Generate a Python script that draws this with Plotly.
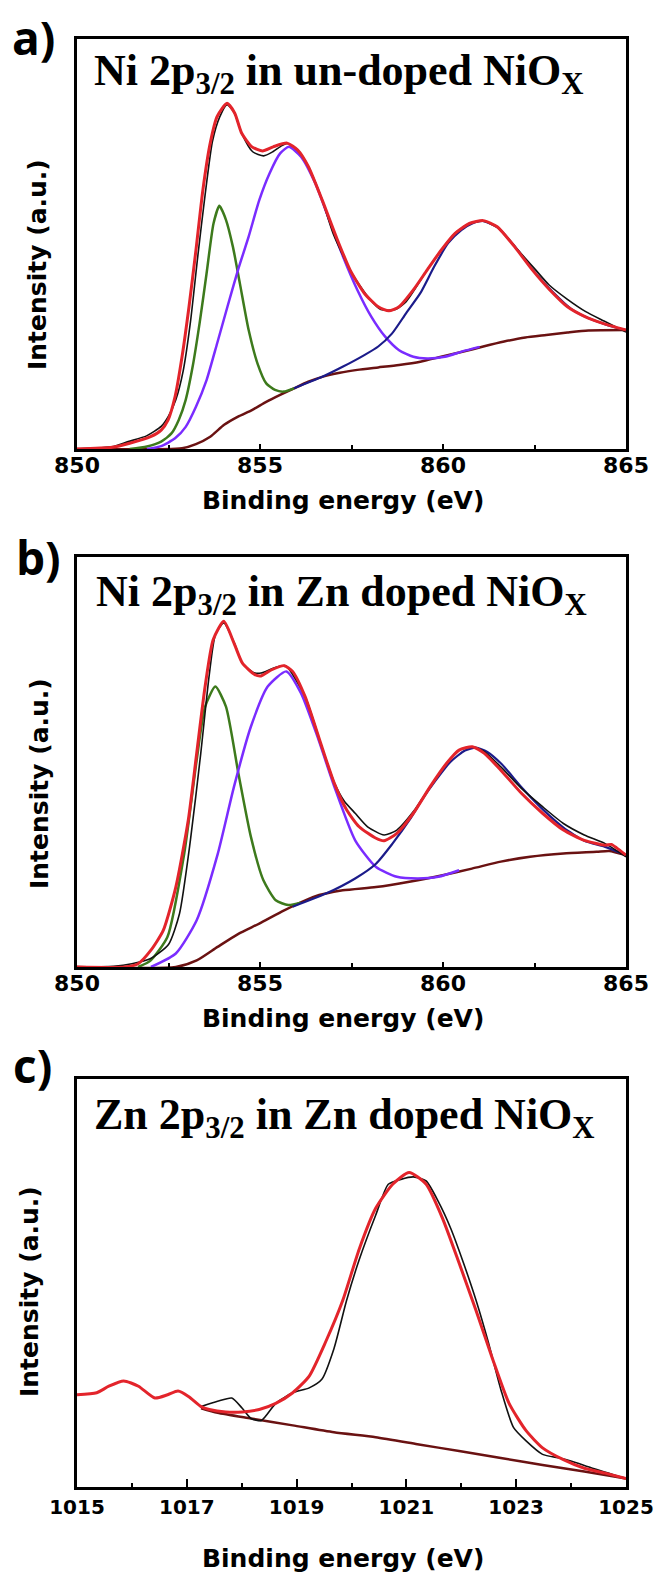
import plotly.graph_objects as go

W, H = 654, 1576

# ---------------- Panel a : Ni 2p3/2 in un-doped NiOx ----------------
a_bg_x = [850.0, 852.87, 853.25, 853.64, 854.02, 854.40, 854.78, 855.17, 855.55, 855.93, 856.32, 856.70, 857.18, 857.66,
          858.23, 858.80, 859.38, 859.95, 860.53, 861.10, 861.67, 862.25, 862.82, 863.40, 863.97, 865.0]
a_bg_y = [0.0, 0.2, 1.2, 3.0, 5.9, 7.9, 9.5, 11.5, 13.2, 14.8, 16.4, 17.6, 18.6, 19.3,
          19.9, 20.5, 21.3, 22.5, 23.7, 25.0, 26.2, 27.2, 27.8, 28.4, 28.9, 29.0]

a_green_x = [851.44, 851.91, 852.30, 852.58, 852.78, 852.97, 853.16, 853.35, 853.54, 853.73, 853.89, 854.07, 854.26,
             854.45, 854.69, 854.93, 855.17, 855.41, 855.65, 855.93]
a_green_y = [0.0, 0.6, 1.8, 3.8, 7.1, 12.0, 20.1, 30.7, 42.8, 55.0, 59.3, 55.9, 49.3,
             40.4, 29.0, 20.9, 16.0, 14.4, 14.0, 14.8]

a_purple_x = [851.91, 852.30, 852.68, 852.97, 853.25, 853.54, 853.83, 854.11, 854.40, 854.69, 854.98, 855.26, 855.55,
              855.79, 856.12, 856.51, 856.89, 857.27, 857.66, 858.04, 858.42, 858.80, 859.19, 859.57, 860.05, 860.53, 861.00]
a_purple_y = [0.0, 0.7, 2.6, 5.4, 10.3, 16.8, 25.8, 34.7, 43.7, 51.8, 60.7, 67.2, 72.1,
              73.7, 71.3, 64.8, 55.9, 46.9, 38.8, 32.3, 27.4, 24.1, 22.5, 22.1, 22.5, 23.8, 24.9]

a_blue_x = [855.93, 856.70, 857.27, 857.85, 858.23, 858.61, 858.99, 859.38, 859.76, 860.14, 860.50, 860.80, 861.10,
            861.50, 862.00, 862.50, 863.00, 863.50, 864.00, 864.50, 865.00]
a_blue_y = [14.8, 17.6, 20.1, 22.9, 25.0, 28.2, 33.1, 38.0, 44.5, 50.2, 53.4, 55.0, 55.6,
            54.0, 49.0, 43.2, 38.3, 34.2, 31.8, 30.2, 29.0]

a_black_x = [850.0, 851.0, 851.4, 851.9, 852.3, 852.5, 852.7, 852.9, 853.1, 853.3, 853.5, 853.7, 853.9, 854.1, 854.3,
             854.5, 854.8, 855.1, 855.35, 855.6, 855.75, 856.03, 856.32, 856.7, 857.0, 857.5, 858.0, 858.3, 858.7,
             859.0, 859.57, 859.95, 860.33, 860.72, 861.1, 861.5, 862.0, 862.5, 862.9, 863.4, 863.9, 864.4, 865.0]
a_black_y = [0.0, 0.6, 1.8, 3.2, 5.5, 8.0, 12.0, 19.0, 31.0, 47.0, 62.0, 75.0, 81.0, 84.0, 82.0,
             77.0, 72.5, 71.5, 72.5, 74.0, 74.5, 72.9, 68.9, 60.7, 52.5, 43.0, 36.5, 34.0, 34.0,
             36.0, 43.7, 48.5, 52.6, 55.0, 55.6, 54.0, 49.0, 44.0, 40.0, 36.5, 33.5, 31.2, 28.5]

a_red_x = [850.0, 850.96, 851.44, 852.01, 852.30, 852.49, 852.68, 852.87, 853.06, 853.25, 853.44, 853.64, 853.83,
           854.10, 854.31, 854.50, 854.78, 855.07, 855.36, 855.74, 856.03, 856.32, 856.70, 857.08, 857.46, 857.85,
           858.23, 858.52, 858.80, 859.19, 859.57, 859.95, 860.33, 860.72, 861.10, 861.48, 861.96, 862.44, 862.92,
           863.40, 863.88, 864.35, 865.0]
a_red_y = [0.0, 0.4, 1.4, 3.0, 4.6, 7.1, 12.8, 22.5, 34.7, 48.5, 63.2, 74.6, 81.1,
           84.3, 81.9, 77.0, 73.7, 72.7, 73.7, 74.6, 72.9, 68.9, 60.7, 51.8, 43.7, 38.0,
           34.7, 33.7, 34.7, 38.8, 43.7, 48.5, 52.6, 55.0, 55.7, 54.2, 49.3, 43.7, 38.8,
           34.7, 32.3, 30.7, 29.0]

# ---------------- Panel b : Ni 2p3/2 in Zn doped NiOx ----------------
b_bg_x = [850.0, 852.70, 853.27, 853.84, 854.41, 854.98, 855.66, 856.46, 857.26, 858.17, 859.08, 859.99, 860.79,
          861.58, 862.38, 863.29, 864.20, 864.54, 865.0]
b_bg_y = [0.0, 0.0, 1.6, 4.9, 8.1, 10.6, 13.8, 17.1, 18.7, 19.5, 20.8, 22.4, 24.0,
          25.7, 26.9, 27.7, 28.1, 28.3, 27.3]

b_green_x = [851.67, 852.0, 852.47, 852.93, 853.27, 853.50, 853.78, 854.07, 854.41, 854.75, 855.09, 855.43, 855.77, 856.12]
b_green_y = [0.0, 1.5, 7.3, 27.7, 50.5, 63.5, 68.4, 63.5, 47.2, 31.8, 21.2, 16.3, 15.1, 15.7]

b_purple_x = [852.02, 852.70, 853.27, 853.84, 854.29, 854.75, 855.21, 855.72, 856.12, 856.57, 857.03, 857.60, 858.17,
              858.74, 859.31, 859.87, 860.44]
b_purple_y = [0.0, 3.3, 11.4, 27.4, 44.0, 58.6, 68.4, 72.1, 66.8, 56.2, 44.0, 30.9, 24.4,
              22.0, 21.6, 22.0, 23.6]

b_blue_x = [855.89, 856.80, 857.60, 858.17, 858.62, 859.08, 859.42, 859.80, 860.20, 860.60, 860.90, 861.20, 861.60,
            862.15, 862.72, 863.29, 863.86, 864.43, 865.0]
b_blue_y = [14.7, 17.9, 21.6, 25.2, 30.1, 35.8, 40.7, 45.5, 50.0, 52.8, 53.5, 52.5, 49.5,
            43.8, 38.5, 34.0, 30.8, 29.3, 27.3]

b_black_x = [850.0, 851.0, 851.5, 852.0, 852.5, 852.8, 853.1, 853.38, 853.61, 853.78, 854.01, 854.3, 854.52, 854.86,
             855.03, 855.4, 855.7, 856.23, 856.69, 857.03, 857.3, 857.6, 857.94, 858.39, 858.74, 859.19, 859.65,
             860.10, 860.44, 860.80, 861.13, 861.58, 862.15, 862.72, 863.29, 863.86, 864.43, 865.0]
b_black_y = [0.0, 0.2, 0.8, 2.0, 5.5, 13.0, 31.0, 52.0, 71.0, 81.0, 83.9, 79.0, 74.0, 71.7,
             71.7, 73.0, 73.5, 66.0, 53.7, 45.0, 40.5, 37.5, 34.2, 32.2, 33.4, 37.9, 44.0,
             49.7, 52.9, 53.7, 52.5, 48.8, 43.5, 39.1, 35.0, 32.2, 30.1, 26.9]

b_red_x = [850.0, 851.30, 851.67, 852.02, 852.36, 852.70, 853.04, 853.27, 853.50, 853.72, 854.01, 854.29, 854.52,
           854.86, 855.03, 855.32, 855.66, 855.89, 856.23, 856.69, 857.03, 857.37, 857.71, 858.17, 858.39, 858.74,
           859.19, 859.65, 860.10, 860.44, 860.80, 861.13, 861.58, 862.15, 862.72, 863.29, 863.86, 864.43, 864.60,
           864.75, 865.0]
b_red_y = [0.0, 0.0, 0.8, 4.1, 9.0, 19.5, 35.8, 52.1, 68.4, 79.8, 84.3, 79.0, 74.1,
           71.3, 71.0, 72.5, 73.5, 72.1, 66.0, 53.7, 44.8, 38.3, 34.2, 31.4, 30.8, 32.6,
           37.5, 44.0, 49.7, 52.9, 53.7, 52.1, 48.0, 42.3, 37.5, 33.4, 30.9, 29.7, 29.9,
           29.0, 27.3]

# ---------------- Panel c : Zn 2p3/2 in Zn doped NiOx ----------------
c_bg_x = [1017.26, 1017.56, 1018.17, 1018.93, 1019.68, 1020.44, 1021.20, 1021.96, 1022.72, 1023.48, 1024.24, 1025.0]
c_bg_y = [19.3, 18.2, 16.8, 15.1, 13.4, 12.2, 10.5, 8.8, 7.1, 5.4, 3.8, 2.1]

c_black_x = [1017.26, 1017.56, 1017.82, 1018.01, 1018.17, 1018.36, 1018.62, 1018.93, 1019.23, 1019.46, 1019.68,
             1019.91, 1020.14, 1020.44, 1020.67, 1020.90, 1021.13, 1021.36, 1021.58, 1021.81, 1022.04, 1022.27,
             1022.49, 1022.72, 1022.95, 1023.18, 1023.48, 1023.79, 1024.01, 1024.39, 1025.0]
c_black_y = [19.7, 21.0, 21.8, 19.3, 16.8, 16.3, 20.5, 23.1, 24.3, 26.4, 33.9,
             45.7, 55.7, 66.6, 74.2, 75.4, 76.0, 75.0, 70.0, 63.3, 54.9, 45.7,
             35.6, 23.9, 14.6, 11.3, 8.0, 7.1, 6.3, 4.6, 2.1]

c_red_x = [1015.0, 1015.36, 1015.58, 1015.85, 1016.12, 1016.42, 1016.65, 1016.84, 1017.03, 1017.26, 1017.41, 1017.71,
           1018.01, 1018.32, 1018.62, 1018.93, 1019.23, 1019.53, 1019.84, 1020.14, 1020.44, 1020.75, 1021.05,
           1021.36, 1021.66, 1021.96, 1022.27, 1022.57, 1022.87, 1023.18, 1023.48, 1023.86, 1024.24, 1024.62, 1025.0]
c_red_y = [22.6, 23.1, 24.7, 26.0, 24.7, 21.8, 22.6, 23.5, 22.2, 19.7, 19.0, 18.4,
           18.4, 19.0, 20.5, 23.1, 27.2, 35.6, 45.7, 58.3, 68.3, 74.2, 77.1,
           74.2, 65.8, 54.9, 43.2, 31.4, 20.5, 13.8, 9.6, 6.7, 4.6, 3.4, 2.1]

titles = ["Ni 2p<sub>3/2</sub> in un-doped NiO<sub>X</sub>",
          "Ni 2p<sub>3/2</sub> in Zn doped NiO<sub>X</sub>",
          "Zn 2p<sub>3/2</sub> in Zn doped NiO<sub>X</sub>"]
panel_labels = ["a)", "b)", "c)"]
x_title = "Binding energy (eV)"
y_title = "Intensity (a.u.)"

RED = "#e3242b"
BLACK = "#111111"
GREEN = "#3d7a1c"
PURPLE = "#7a2cff"
NAVY = "#1b1b8a"
MAROON = "#6a1212"

# panel boxes in pixels (left, top, right, bottom)
boxes = [(77, 39, 626, 449), (77, 557, 626, 967), (77, 1079, 626, 1487)]


def px(x):
    return x / W


def py(y):
    return 1 - y / H


fig = go.Figure()


def add(xs, ys, color, width, idx):
    sfx = "" if idx == 1 else str(idx)
    fig.add_trace(go.Scatter(x=xs, y=ys, mode="lines", line=dict(color=color, width=width, shape="spline", smoothing=0.6),
                             xaxis="x" + sfx, yaxis="y" + sfx, showlegend=False, hoverinfo="skip"))


add(a_bg_x, a_bg_y, MAROON, 2.5, 1)
add(a_green_x, a_green_y, GREEN, 2.5, 1)
add(a_purple_x, a_purple_y, PURPLE, 2.5, 1)
add(a_blue_x, a_blue_y, NAVY, 2.2, 1)
add(a_black_x, a_black_y, BLACK, 1.6, 1)
add(a_red_x, a_red_y, RED, 3.0, 1)

add(b_bg_x, b_bg_y, MAROON, 2.5, 2)
add(b_green_x, b_green_y, GREEN, 2.5, 2)
add(b_purple_x, b_purple_y, PURPLE, 2.5, 2)
add(b_blue_x, b_blue_y, NAVY, 2.2, 2)
add(b_black_x, b_black_y, BLACK, 1.6, 2)
add(b_red_x, b_red_y, RED, 3.0, 2)

add(c_bg_x, c_bg_y, MAROON, 2.5, 3)
add(c_black_x, c_black_y, BLACK, 1.6, 3)
add(c_red_x, c_red_y, RED, 3.0, 3)

layout = dict(width=W, height=H, margin=dict(l=0, r=0, t=0, b=0, pad=0, autoexpand=False),
              paper_bgcolor="white", plot_bgcolor="white", showlegend=False)

# (range lo, range hi, tick0, dtick, minor dtick, major ticklen, minor ticklen, tick font size, standoff)
xcfg = [(850, 865, 850, 5, 2.5, 5, 4, 22, -5), (850, 865, 850, 5, 2.5, 5, 4, 22, -5),
        (1015, 1025, 1015, 2, 1, 8, 4, 20, 0)]
for i, (box, xc) in enumerate(zip(boxes, xcfg)):
    l, t, r, b = box
    sfx = "" if i == 0 else str(i + 1)
    lo, hi, t0, dt, mdt, tl, mtl, fs, so = xc
    layout["xaxis" + sfx] = dict(domain=[px(l), px(r)], range=[lo, hi], anchor="y" + sfx, automargin=False,
                                 showline=True, mirror=True, linewidth=2.5, linecolor="black",
                                 showgrid=False, zeroline=False, ticks="inside", ticklen=tl, tickwidth=1.5,
                                 tickcolor="black", tickmode="linear", tick0=t0, dtick=dt,
                                 tickfont=dict(family="DejaVu Sans", size=fs, color="black", weight="bold"),
                                 ticklabelstandoff=so, ticklabeloverflow="allow",
                                 minor=dict(dtick=mdt, ticks="inside", ticklen=mtl, tickwidth=1.5, tickcolor="black"))
    layout["yaxis" + sfx] = dict(domain=[py(b), py(t)], range=[0, 100], anchor="x" + sfx, automargin=False,
                                 showline=True, mirror=True, linewidth=2.5, linecolor="black",
                                 showgrid=False, zeroline=False, showticklabels=False, ticks="")

fig.update_layout(**layout)

ann = []
title_pos = [(92, 73), (94, 594), (92, 1117)]
label_pos = [(33, 37), (38, 557), (32, 1065)]
xt_pos = [(343, 500), (343, 1018), (343, 1558)]
yt_pos = [(38, 265), (40, 784), (29, 1292)]
for i in range(3):
    ann.append(dict(text=titles[i], x=px(title_pos[i][0]), y=py(title_pos[i][1]), xref="paper", yref="paper",
                    xanchor="left", yanchor="middle", showarrow=False,
                    font=dict(family="Liberation Serif", size=44, color="black", weight="bold")))
    ann.append(dict(text=panel_labels[i], x=px(label_pos[i][0]), y=py(label_pos[i][1]), xref="paper", yref="paper",
                    xanchor="center", yanchor="middle", showarrow=False,
                    font=dict(family="Open Sans", size=46, color="black", weight="bold")))
    ann.append(dict(text=x_title, x=px(xt_pos[i][0]), y=py(xt_pos[i][1]), xref="paper", yref="paper",
                    xanchor="center", yanchor="middle", showarrow=False,
                    font=dict(family="DejaVu Sans", size=25, color="black", weight="bold")))
    ann.append(dict(text=y_title, x=px(yt_pos[i][0]), y=py(yt_pos[i][1]), xref="paper", yref="paper",
                    xanchor="center", yanchor="middle", showarrow=False, textangle=-90,
                    font=dict(family="DejaVu Sans", size=25, color="black", weight="bold")))
fig.update_layout(annotations=ann)

fig.write_html("out.html", config={"displayModeBar": False},
               post_script="document.body.style.margin='0';document.body.style.padding='0';")
